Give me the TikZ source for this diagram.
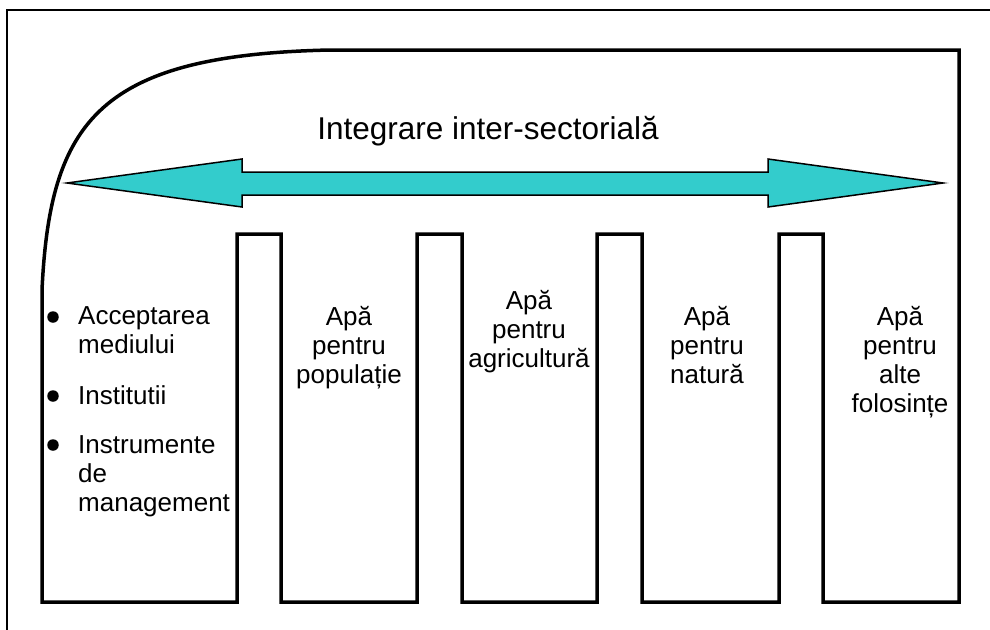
\documentclass[tikz,border=0pt]{standalone}
\usepackage{fontspec}
\setmainfont{Liberation Sans}
\usetikzlibrary{positioning}
\definecolor{arrowcyan}{HTML}{33CCCC}

\begin{document}
\begin{tikzpicture}[x=1pt,y=-1pt,
    wall/.style={line width=3.5pt,line join=miter},
    lbl/.style={font=\fontsize{26}{29}\selectfont,inner sep=0pt,align=center,anchor=base},
    item/.style={font=\fontsize{26}{29}\selectfont,inner sep=0pt,align=left,anchor=base west},
    dot/.style={circle,fill,inner sep=0pt,minimum size=11.5pt}]
  \useasboundingbox (0,0) rectangle (990,629);
  \draw[line width=2pt] (7,10) rectangle (1000,640);
  % outline with the pillars
  \draw[wall] (42,602) -- (237,602) -- (237,234) -- (281,234) -- (281,602)
    -- (417,602) -- (417,234) -- (462,234) -- (462,602)
    -- (597,602) -- (597,234) -- (642,234) -- (642,602)
    -- (779,602) -- (779,234) -- (823,234) -- (823,602)
    -- (959,602) -- (959,50) -- (330,50)
    .. controls (100,55) and (50,120) .. (42,290) -- cycle;
  % double arrow
  \draw[fill=arrowcyan,line width=1.5pt] (67,183) -- (242,159) -- (242,172) -- (768,172)
    -- (768,159) -- (943,183) -- (768,207) -- (768,195) -- (242,195) -- (242,207) -- cycle;
  \node[font=\fontsize{31.5}{36}\selectfont,inner sep=0pt] (titlu) at (488,131) {Integrare inter-sectorială};
  % sectors (base = last line)
  \node[lbl] (pop) at (349,383) {Apă\\pentru\\populație};
  \node[lbl] (agr) at (529,367) {Apă\\pentru\\agricultură};
  \node[lbl] (nat) at (707,383) {Apă\\pentru\\natură};
  \node[lbl] (alt) at (900,412) {Apă\\pentru\\alte\\folosințe};
  % left column
  \node[item] (acc) at (78,353) {Acceptarea\\mediului};
  \node[item] (ins) at (78,404) {Institutii};
  \node[item] (ist) at (78,511) {Instrumente\\de\\management};
  \node[dot] (d1) at (53,317) {};
  \node[dot] (d2) at (53,396) {};
  \node[dot] (d3) at (53,445) {};
\end{tikzpicture}
\end{document}
